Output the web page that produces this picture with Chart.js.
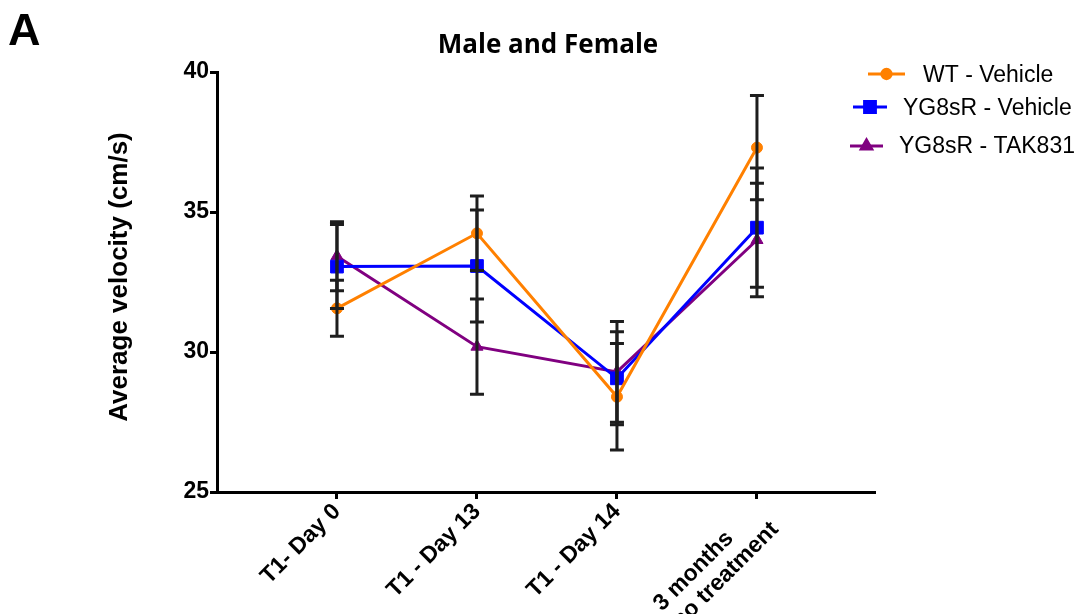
<!DOCTYPE html>
<html>
<head>
<meta charset="utf-8">
<script src="https://cdn.jsdelivr.net/npm/chart.js@4/dist/chart.umd.min.js"></script>
<style>
  html, body { margin: 0; padding: 0; background: #fff; }
  #wrap { width: 1082px; height: 614px; }
</style>
</head>
<body>
<div id="wrap"><canvas id="velChart" width="1082" height="614"></canvas></div>
<script>
// timepoints on the x axis (first line padded so the two lines start together)
const timepoints = ['T1- Day 0', 'T1 - Day 13', 'T1 - Day 14', ['3 months      ', 'no treatment']];

// mean velocity per group (cm/s)
const wtVehicle = [31.56, 34.24, 28.40, 37.30];
const ygVehicle = [33.05, 33.07, 29.06, 34.44];
const ygTak831 = [33.42, 30.19, 29.29, 34.00];

// error (SEM) per group
const wtVehicleErr = [1.00, 1.33, 1.90, 1.86];
const ygVehicleErr = [1.50, 2.00, 1.66, 2.13];
const ygTak831Err = [1.23, 1.70, 1.80, 2.03];

const yTicks = [25, 30, 35, 40];

const groups = [
  { label: 'WT - Vehicle', values: wtVehicle, err: wtVehicleErr, color: '#ff8000', style: 'circle', radius: 5.5 },
  { label: 'YG8sR - Vehicle', values: ygVehicle, err: ygVehicleErr, color: '#0000ff', style: 'rect', radius: 9 },
  { label: 'YG8sR - TAK831', values: ygTak831, err: ygTak831Err, color: '#800080', style: 'triangle', radius: 7 }
];

const toPoints = vals => vals.map((v, i) => ({ x: i + 1, y: v }));

// error bars drawn on top of the lines
const errorBars = {
  id: 'errorBars',
  afterDatasetsDraw(chart) {
    const { ctx, scales: { x, y } } = chart;
    ctx.save();
    ctx.strokeStyle = '#1e1e1e';
    ctx.lineWidth = 3;
    groups.forEach(g => {
      g.values.forEach((v, i) => {
        const px = x.getPixelForValue(i + 1);
        const top = y.getPixelForValue(v + g.err[i]);
        const bot = y.getPixelForValue(v - g.err[i]);
        ctx.beginPath();
        ctx.moveTo(px, top); ctx.lineTo(px, bot);
        ctx.moveTo(px - 7, top); ctx.lineTo(px + 7, top);
        ctx.moveTo(px - 7, bot); ctx.lineTo(px + 7, bot);
        ctx.stroke();
      });
    });
    ctx.restore();
  }
};

// panel letter, title, y title and legend
const decorations = {
  id: 'decorations',
  afterDraw(chart) {
    const ctx = chart.ctx;
    ctx.save();
    ctx.fillStyle = '#000';

    ctx.font = 'bold 45px "Liberation Sans", Arial, sans-serif';
    ctx.textAlign = 'left';
    ctx.textBaseline = 'alphabetic';
    ctx.fillText('A', 8, 45);

    ctx.font = 'bold 26px "Open Sans", sans-serif';
    ctx.textAlign = 'center';
    ctx.fillText('Male and Female', 548, 53);

    ctx.save();
    ctx.translate(120, 277);
    ctx.rotate(-Math.PI / 2);
    ctx.font = 'bold 26px "Liberation Sans", Arial, sans-serif';
    ctx.textBaseline = 'middle';
    ctx.fillText('Average velocity (cm/s)', 0, 0);
    ctx.restore();

    const rows = [
      { x0: 868, x1: 905, y: 74, tx: 923, ty: 82 },
      { x0: 853, x1: 887, y: 107, tx: 903, ty: 115 },
      { x0: 850, x1: 883, y: 146, tx: 899, ty: 153 }
    ];
    ctx.font = '23px "Liberation Sans", Arial, sans-serif';
    ctx.textAlign = 'left';
    ctx.textBaseline = 'alphabetic';
    groups.forEach((g, i) => {
      const r = rows[i];
      ctx.strokeStyle = g.color;
      ctx.fillStyle = g.color;
      ctx.lineWidth = 3;
      ctx.beginPath();
      ctx.moveTo(r.x0, r.y); ctx.lineTo(r.x1, r.y);
      ctx.stroke();
      Chart.helpers.drawPoint(ctx, {
        pointStyle: g.style, radius: g.radius * 0.85, rotation: 0, borderWidth: 1
      }, (r.x0 + r.x1) / 2, r.y);
      ctx.fillStyle = '#000';
      ctx.fillText(g.label, r.tx, r.ty);
    });
    ctx.restore();
  }
};

new Chart(document.getElementById('velChart'), {
  type: 'line',
  data: {
    datasets: groups.map(g => ({
      label: g.label,
      data: toPoints(g.values),
      borderColor: g.color,
      backgroundColor: g.color,
      borderWidth: 3,
      pointStyle: g.style,
      pointRadius: g.radius,
      pointBorderWidth: 1,
      tension: 0
    }))
  },
  options: {
    responsive: false,
    devicePixelRatio: 1,
    animation: false,
    layout: { padding: { left: 0, top: 72, right: 208, bottom: 0 } },
    plugins: {
      legend: { display: false },
      title: { display: false },
      tooltip: { enabled: false }
    },
    scales: {
      x: {
        type: 'linear',
        min: 0.143,
        max: 4.836,
        afterFit: s => { s.height = 122; },
        afterBuildTicks: s => { s.ticks = timepoints.map((t, i) => ({ value: i + 1 })); },
        grid: { drawOnChartArea: false, drawTicks: true, tickLength: 7, lineWidth: 3, color: '#000' },
        border: { color: '#000', width: 3 },
        ticks: {
          autoSkip: false,
          minRotation: 45,
          maxRotation: 45,
          padding: 0,
          color: '#000',
          font: { family: '"Liberation Sans", Arial, sans-serif', size: 23, weight: 'bold', lineHeight: 1.1 },
          callback: v => timepoints[v - 1]
        }
      },
      y: {
        min: 25,
        max: 40,
        afterFit: s => { s.width = 217; },
        afterBuildTicks: s => { s.ticks = yTicks.map(v => ({ value: v })); },
        grid: { drawOnChartArea: false, drawTicks: true, tickLength: 7, lineWidth: 3, color: '#000' },
        border: { color: '#000', width: 3 },
        ticks: {
          padding: 1,
          color: '#000',
          font: { family: '"Liberation Sans", Arial, sans-serif', size: 23, weight: 'bold' }
        }
      }
    }
  },
  plugins: [errorBars, decorations]
});
</script>
</body>
</html>
